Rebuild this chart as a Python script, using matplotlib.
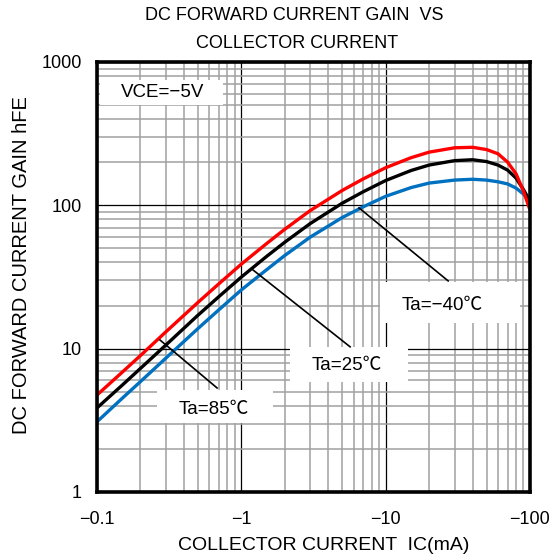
import matplotlib
matplotlib.use("Agg")
import matplotlib.pyplot as plt
from matplotlib.patches import Rectangle
from matplotlib.ticker import LogLocator, FixedLocator, NullFormatter

plt.rcParams['font.family'] = ['Liberation Sans', 'Noto Sans CJK JP', 'DejaVu Sans']

# ---- data (IC in mA, magnitude; hFE) ----
ic = [0.1, 0.15, 0.2, 0.3, 0.5, 0.7, 1, 1.5, 2, 3, 5, 7, 10, 15, 20, 30, 40, 50, 60, 70, 80, 90, 100]
hfe_85 = [4.75, 6.87, 8.95, 13.1, 21.0, 28.4, 38.9, 54.2, 68.1, 91.9, 127, 153, 183, 215, 235, 252, 254,
          245, 229, 200, 166, 126, 93]
hfe_25 = [3.86, 5.58, 7.28, 10.6, 17.1, 23.1, 31.6, 44.1, 55.3, 74.6, 103.5, 124.5, 149, 175, 191, 205, 208,
          202, 191, 176, 155, 129, 107]
hfe_m40 = [3.09, 4.52, 5.89, 8.59, 13.8, 18.7, 25.7, 35.6, 44.7, 60, 82.2, 97.7, 115.6, 133, 143, 150, 152,
           150, 146, 141, 132, 120, 106]

x_ticks = [0.1, 1, 10, 100]
x_ticklabels = ['\u22120.1', '\u22121', '\u221210', '\u2212100']
y_ticks = [1, 10, 100, 1000]
y_ticklabels = ['1', '10', '100', '1000']

labels = ['Ta=85\u2103', 'Ta=25\u2103', 'Ta=\u221240\u2103']
leader_x = [(0.273, 0.679), (1.205, 5.67), (6.54, 27.1)]
leader_y = [(11.5, 5.32), (35.4, 10.3), (95.9, 29.7)]

W, H = 552, 560
fig = plt.figure(figsize=(W / 100, H / 100), dpi=100)
L, R, T, B = 97, 530, 62, 492
ax = fig.add_axes([L / W, (H - B) / H, (R - L) / W, (B - T) / H])

ax.set_xscale('log')
ax.set_yscale('log')
ax.set_xlim(0.1, 100)
ax.set_ylim(1, 1000)

ax.xaxis.set_major_locator(FixedLocator(x_ticks))
ax.yaxis.set_major_locator(FixedLocator(y_ticks))
ax.xaxis.set_minor_locator(LogLocator(base=10, subs=range(2, 10)))
ax.yaxis.set_minor_locator(LogLocator(base=10, subs=range(2, 10)))
ax.xaxis.set_minor_formatter(NullFormatter())
ax.yaxis.set_minor_formatter(NullFormatter())
ax.set_xticklabels(x_ticklabels)
ax.set_yticklabels(y_ticklabels)
ax.tick_params(which='both', length=0)
ax.tick_params(axis='x', pad=14, labelsize=13)
ax.tick_params(axis='y', pad=11, labelsize=13)

ax.set_axisbelow(True)
ax.grid(which='minor', color='#a0a0a0', lw=1.1)
ax.grid(which='major', color='black', lw=0.9)
for s in ax.spines.values():
    s.set_linewidth(2.6)
    s.set_zorder(10)

# curves
ax.plot(ic, hfe_m40, color='#0070c0', lw=2.4, zorder=3, solid_capstyle='butt')
ax.plot(ic, hfe_25, color='black', lw=2.4, zorder=3.1, solid_capstyle='butt')
ax.plot(ic, hfe_85, color='#ff0000', lw=2.4, zorder=3.2, solid_capstyle='butt')

def px2ax(x0, x1, y0, y1):
    return ((x0 - L) / (R - L), (B - y1) / (B - T), (x1 - x0) / (R - L), (y1 - y0) / (B - T))

def box(x0, x1, y0, y1):
    ax0, ay0, aw, ah = px2ax(x0, x1, y0, y1)
    ax.add_patch(Rectangle((ax0, ay0), aw, ah, transform=ax.transAxes,
                           facecolor='white', edgecolor='none', zorder=1))

def txt(px, py, s):
    ax.text((px - L) / (R - L), (B - py) / (B - T), s, transform=ax.transAxes,
            ha='center', va='center', fontsize=13.5, zorder=5)

box(100, 223, 80, 105)
txt(163, 93, 'VCE=\u22125V')

box(157, 273, 390, 423)
box(290, 408, 347, 382)
box(380, 520, 282, 323)
txt(214, 409, labels[0])
txt(347, 366, labels[1])
txt(442, 306, labels[2])

for lx, ly in zip(leader_x, leader_y):
    ax.plot(lx, ly, color='black', lw=1.2, zorder=3.5)

fig.text(294 / W, 1 - 16 / H, 'DC FORWARD CURRENT GAIN  VS', ha='center', va='center', fontsize=13)
fig.text(297 / W, 1 - 43 / H, 'COLLECTOR CURRENT', ha='center', va='center', fontsize=13)
fig.text(324 / W, 1 - 545 / H, 'COLLECTOR CURRENT  IC(mA)', ha='center', va='center', fontsize=14)
fig.text(22 / W, 1 - 265 / H, 'DC FORWARD CURRENT GAIN hFE', ha='center', va='center',
         rotation=90, fontsize=14.5)

fig.savefig('out.png', dpi=100, facecolor='white')
